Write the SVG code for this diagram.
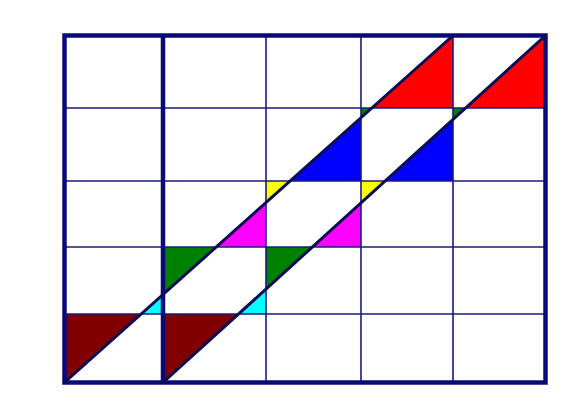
<svg xmlns="http://www.w3.org/2000/svg" width="573" height="401" viewBox="0 0 573 401">
<style>
.thin{stroke:#1a1a80;stroke-width:1.6;fill:none}
.thick{stroke:#0a0a7a;stroke-width:4.5;fill:none}
.diag{stroke:#0d0d55;stroke-width:3;fill:none;stroke-linecap:round}
.dr{fill:#800000}.cy{fill:#00ffff}.gr{fill:#008000}.mg{fill:#ff00ff}.ye{fill:#ffff00}.bl{fill:#0000ff}.rd{fill:#ff0000}
</style>
<rect width="573" height="401" fill="#ffffff"/>
<g id="triangles">
<polygon class="dr" points="64.5,382.5 64.5,314 141.2,314"/>
<polygon class="cy" points="141.2,314 163,314 163,294.5"/>
<polygon class="gr" points="163,294.5 163,247 216.2,247"/>
<polygon class="mg" points="216.2,247 266,247 266,202.5"/>
<polygon class="ye" points="266,202.5 266,181 290.1,181"/>
<polygon class="bl" points="290.1,181 361,181 361,117.7"/>
<polygon class="gr" points="361,117.7 361,108 371.8,108"/>
<polygon class="rd" points="371.8,108 453,108 453,35.5"/>
<polygon class="dr" points="163,382.5 163,314 238.5,314"/>
<polygon class="cy" points="238.5,314 266,314 266,289.1"/>
<polygon class="gr" points="266,289.1 266,247 312.4,247"/>
<polygon class="mg" points="312.4,247 361,247 361,202.9"/>
<polygon class="ye" points="361,202.9 361,181 385.1,181"/>
<polygon class="bl" points="385.1,181 453,181 453,119.4"/>
<polygon class="gr" points="453,119.4 453,108 465.6,108"/>
<polygon class="rd" points="465.6,108 545.5,108 545.5,35.5"/>
</g>
<g id="grid">
<line class="thin" x1="64.5" y1="108" x2="545.5" y2="108"/>
<line class="thin" x1="64.5" y1="181" x2="545.5" y2="181"/>
<line class="thin" x1="64.5" y1="247" x2="545.5" y2="247"/>
<line class="thin" x1="64.5" y1="314" x2="545.5" y2="314"/>
<line class="thin" x1="266" y1="35.5" x2="266" y2="382.5"/>
<line class="thin" x1="361" y1="35.5" x2="361" y2="382.5"/>
<line class="thin" x1="453" y1="35.5" x2="453" y2="382.5"/>
<line class="thick" x1="163" y1="35.5" x2="163" y2="382.5"/>
<rect class="thick" x="64.5" y="35.5" width="481" height="347"/>
</g>
<g id="diagonals">
<line class="diag" x1="64.5" y1="382.5" x2="453" y2="35.5"/>
<line class="diag" x1="163" y1="382.5" x2="545.5" y2="35.5"/>
</g>
</svg>
